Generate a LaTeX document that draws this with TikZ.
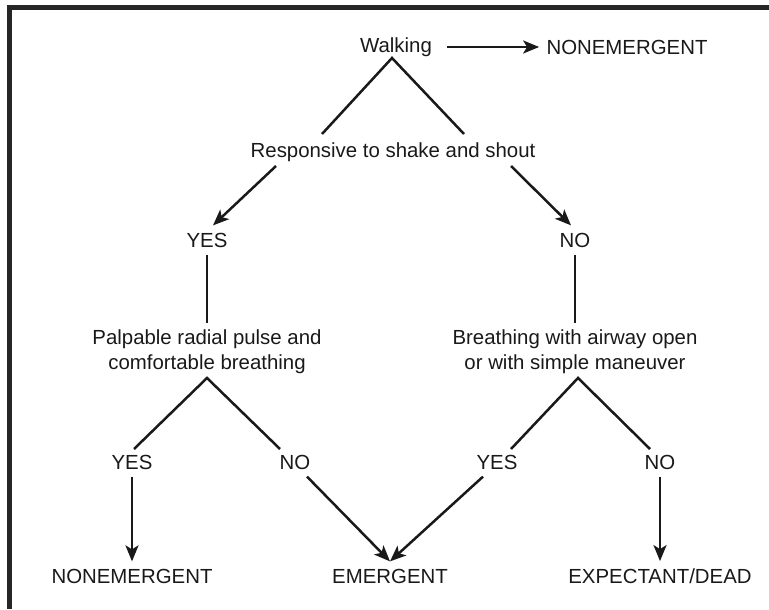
\documentclass[tikz,border=0pt]{standalone}
\usepackage{fontspec}
\setmainfont{Liberation Sans}
\usetikzlibrary{positioning,arrows.meta}

\begin{document}
\begin{tikzpicture}[x=0.5pt,y=-0.5pt,every node/.style={font=\fontsize{10.2}{12.4}\selectfont,text=black!90,inner sep=3.5pt,align=center},edge/.style={draw=black!90,line width=1.25pt},arr/.style={edge,-{Stealth[length=8pt,width=6.5pt,inset=2pt]}}]

		\useasboundingbox (0,0) rectangle (769,609);

		%frame
		\draw[line width=2.5pt,draw=black!85] (9.5,609) -- (9.5,7.5) -- (769,7.5);

		%top nodes
		\node (walk) at (396,47) {Walking};
		\node (nonT) at (627,47) {NONEMERGENT};
		\node (resp) at (393,152) {Responsive to shake and shout};
		\node (yesA) at (207,240) {YES};
		\node (noA) at (575,240) {NO};

		%middle nodes
		\node (palp) at (207,352) {Palpable radial pulse and\\comfortable breathing};
		\node (brea) at (575,352) {Breathing with airway open\\or with simple maneuver};

		%bottom nodes
		\node (yesB) at (132,462) {YES};
		\node (noB) at (295,462) {NO};
		\node (yesC) at (497,462) {YES};
		\node (noC) at (660,462) {NO};
		\node (nonB) at (132,576) {NONEMERGENT};
		\node (emer) at (390,576) {EMERGENT};
		\node (expd) at (660,576) {EXPECTANT/DEAD};

		%fork points
		\coordinate (wTop) at (392,58);
		\coordinate (wL) at (322,134);
		\coordinate (wR) at (464,134);
		\coordinate (rL) at (276,166);
		\coordinate (rR) at (511,166);
		\coordinate (pTop) at (207,378);
		\coordinate (pL) at (134,449);
		\coordinate (pR) at (280,449);
		\coordinate (bTop) at (578,378);
		\coordinate (bL) at (511,449);
		\coordinate (bR) at (650,449);

		%edges
		\draw[arr,shorten <=4pt] (walk) -- (nonT);
		\draw[edge] (wL) -- (wTop) -- (wR);
		\draw[arr] (rL) -- ([xshift=3pt]yesA.north);
		\draw[arr] (rR) -- ([xshift=-2pt]noA.north);
		\draw[edge] (yesA) -- (palp);
		\draw[edge] (noA) -- (brea);
		\draw[edge] (pL) -- (pTop) -- (pR);
		\draw[edge] (bL) -- (bTop) -- (bR);
		\draw[arr] (yesB) -- (nonB);
		\draw[arr] ([xshift=6pt]noB.south) -- (emer.north);
		\draw[arr] ([xshift=-7pt]yesC.south) -- (emer.north);
		\draw[arr] (noC) -- (expd);
\end{tikzpicture}
\end{document}
